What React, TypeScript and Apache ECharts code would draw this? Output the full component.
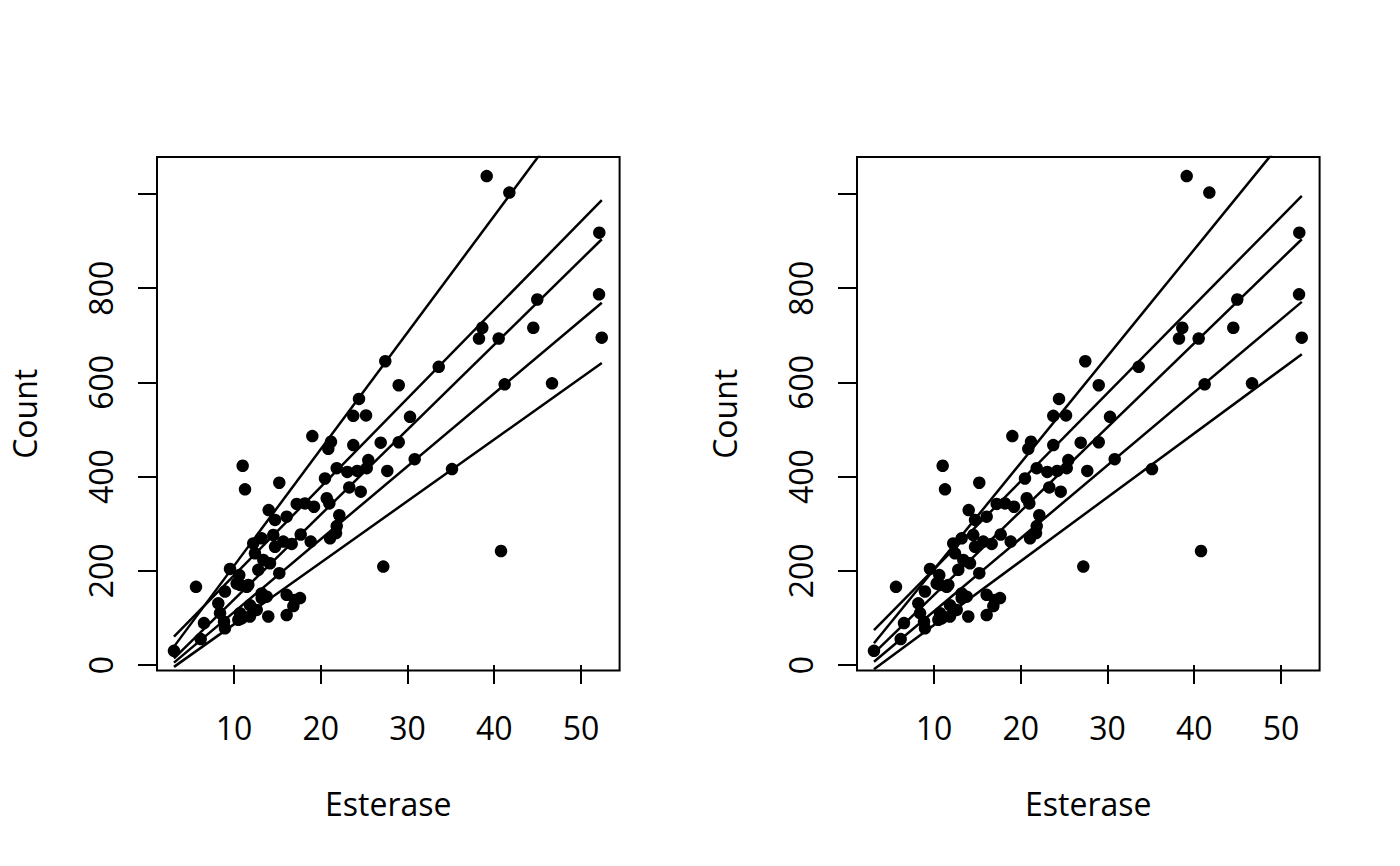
import React, { useEffect, useRef } from "react";
import * as echarts from "echarts";

const esterase: number[] = [
  39.13, 41.74, 52.11, 44.96, 52.08, 52.39, 38.62, 38.24, 40.51, 44.5,
  46.66, 41.2, 33.6, 27.44, 28.99, 24.41, 23.75, 25.22, 30.29, 19.03,
  21.18, 20.87, 23.75, 26.91, 28.99, 25.48, 30.83, 35.13, 21.84, 23.06,
  24.21, 25.3, 27.67, 20.49, 23.29, 24.61, 40.78, 27.21,
  11.0, 11.27, 15.22, 14.0, 17.23, 18.18, 19.22, 20.69, 20.99, 16.07,
  14.73, 17.69, 18.84, 21.07, 21.76, 22.14, 21.84, 12.22, 13.19, 14.53,
  15.68, 16.65, 12.42, 13.38, 14.15, 14.73, 15.22, 12.8, 9.54, 10.61,
  10.31, 11.46, 13.19, 13.77, 16.07, 17.03, 17.61, 16.84, 11.84, 12.62,
  10.69, 10.5, 11.84, 13.95, 16.07, 8.96, 8.19, 8.39, 8.85, 8.96,
  6.54, 5.62, 3.08, 6.16, 10.89, 13.19, 10.69, 11.65,
];
const count: number[] = [
  1038, 1003, 918, 776, 787, 695, 716, 693, 693, 716,
  598, 596, 633, 645, 594, 565, 529, 530, 527, 486,
  474, 459, 467, 472, 473, 435, 437, 416, 418, 410,
  412, 418, 412, 396, 377, 368, 242, 209,
  423, 373, 387, 329, 342, 343, 336, 354, 343, 315,
  308, 277, 262, 269, 280, 318, 295, 258, 269, 276,
  262, 257, 237, 223, 216, 251, 195, 202, 204, 191,
  173, 166, 152, 145, 149, 138, 142, 125, 127, 117,
  110, 96, 103, 103, 106, 156, 131, 110, 92, 78,
  89, 166, 30, 55, 99, 142, 170, 170,
];

// fitted lines: value at the smallest and largest Esterase
const lineX: number[] = [3.08, 52.4];
const leftLineStart: number[] = [39, 60, 14, 5, -4];
const leftLineEnd: number[] = [1261, 987, 904, 769, 641];
const rightLineStart: number[] = [46, 74, 25, 7, -9];
const rightLineEnd: number[] = [1163, 996, 904, 771, 660];

const xTicks: number[] = [10, 20, 30, 40, 50];
const yTicks: number[] = [0, 200, 400, 600, 800, 1000];
const yTickLabels: number[] = [0, 200, 400, 600, 800];

const X_MIN = 1.124;
const X_MAX = 54.45;
const Y_MIN = -11.9;
const Y_MAX = 1078.6;

const FONT = "Open Sans";

export default function App() {
  const ref = useRef<HTMLDivElement | null>(null);

  useEffect(() => {
    if (!ref.current) return;
    const chart = echarts.init(ref.current, undefined, { renderer: "svg" });

    const points = esterase.map((x, i) => [x, count[i]]);
    const panels = [157, 857];

    const grids = panels.map((left) => ({
      left,
      top: 157,
      width: 462.6,
      height: 513.6,
      show: true,
      borderColor: "#000",
      borderWidth: 2,
      backgroundColor: "transparent",
      containLabel: false,
    }));

    const xAxes = panels.map((_, gi) => ({
      type: "value",
      gridIndex: gi,
      min: X_MIN,
      max: X_MAX,
      axisLine: { show: false },
      splitLine: { show: false },
      axisTick: {
        show: true,
        customValues: xTicks,
        length: 19,
        inside: false,
        lineStyle: { color: "#000", width: 2 },
      },
      axisLabel: {
        show: true,
        customValues: xTicks,
        fontSize: 32,
        fontFamily: FONT,
        color: "#000",
        margin: 41,
      },
      name: "Esterase",
      nameLocation: "middle",
      nameGap: 117,
      nameTextStyle: { fontSize: 32, fontFamily: FONT, color: "#000" },
    }));

    const yAxes = panels.map((_, gi) => ({
      type: "value",
      gridIndex: gi,
      min: Y_MIN,
      max: Y_MAX,
      axisLine: { show: false },
      splitLine: { show: false },
      axisTick: {
        show: true,
        customValues: yTicks,
        length: 19,
        inside: false,
        lineStyle: { color: "#000", width: 2 },
      },
      axisLabel: {
        show: true,
        customValues: yTickLabels,
        rotate: 90,
        fontSize: 32,
        fontFamily: FONT,
        color: "#000",
        margin: 41,
      },
      name: "Count",
      nameLocation: "middle",
      nameGap: 117,
      nameRotate: 90,
      nameTextStyle: { fontSize: 32, fontFamily: FONT, color: "#000" },
    }));

    const series: any[] = [];
    panels.forEach((_, gi) => {
      series.push({
        type: "scatter",
        xAxisIndex: gi,
        yAxisIndex: gi,
        data: points,
        symbol: "circle",
        symbolSize: 12.5,
        itemStyle: { color: "#000", opacity: 1 },
        silent: true,
        z: 3,
      });
      const starts = gi === 0 ? leftLineStart : rightLineStart;
      const ends = gi === 0 ? leftLineEnd : rightLineEnd;
      starts.forEach((s, li) => {
        series.push({
          type: "line",
          xAxisIndex: gi,
          yAxisIndex: gi,
          data: [
            [lineX[0], s],
            [lineX[1], ends[li]],
          ],
          showSymbol: false,
          symbol: "none",
          clip: true,
          lineStyle: { color: "#000", width: 2.5, opacity: 1 },
          silent: true,
          z: 4,
        });
      });
    });

    chart.setOption({
      animation: false,
      backgroundColor: "#fff",
      grid: grids,
      xAxis: xAxes,
      yAxis: yAxes,
      series,
    });

    return () => {
      chart.dispose();
    };
  }, []);

  return (
    <div
      ref={ref}
      style={{
        position: "absolute",
        left: 0,
        top: 0,
        width: 1400,
        height: 866,
        background: "#fff",
      }}
    />
  );
}
